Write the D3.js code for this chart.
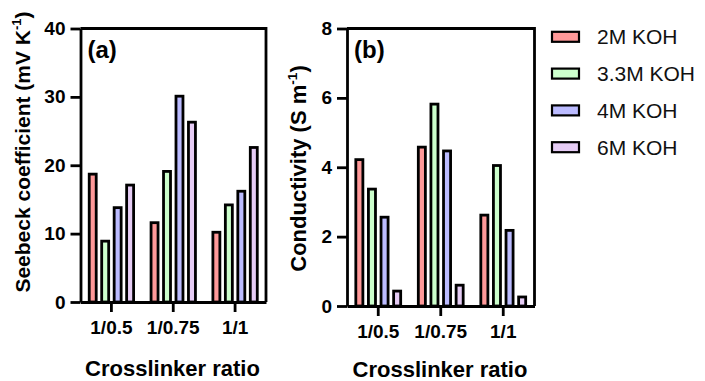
<!DOCTYPE html>
<html><head><meta charset="utf-8">
<script src="https://cdn.jsdelivr.net/npm/d3@7"></script>
<style>
body{margin:0;background:#fff}
svg text{font-family:"Liberation Sans",Arial,Helvetica,sans-serif}
</style>
</head><body>
<svg id="chart" width="705" height="381"></svg>
<script>
// ---- data ----
const categories = ["1/0.5", "1/0.75", "1/1"];
const seriesNames = ["2M KOH", "3.3M KOH", "4M KOH", "6M KOH"];
const seriesColors = ["#FF9999", "#CCFFCC", "#BBBBFF", "#E6CCF5"];

const seebeck2M  = [18.7, 11.6, 10.2];
const seebeck33M = [8.9, 19.1, 14.2];
const seebeck4M  = [13.8, 30.1, 16.2];
const seebeck6M  = [17.1, 26.3, 22.6];

const cond2M  = [4.22, 4.58, 2.62];
const cond33M = [3.37, 5.82, 4.05];
const cond4M  = [2.56, 4.47, 2.18];
const cond6M  = [0.43, 0.60, 0.26];

const seebeckTicks = [0, 10, 20, 30, 40];
const condTicks = [0, 2, 4, 6, 8];

// ---- drawing ----
const svg = d3.select("#chart");
const color = d3.scaleOrdinal().domain(seriesNames).range(seriesColors);
const SW = 2.8;

function panel(o) {
  const x0 = d3.scaleBand().domain(categories).range([o.left, o.right]).paddingInner(0).paddingOuter(0);
  const x1 = d3.scaleBand().domain(seriesNames).range([0, x0.bandwidth()]).paddingInner(0.44).paddingOuter(0.7);
  const y = d3.scaleLinear().domain([0, o.yTicks[o.yTicks.length - 1]]).range([o.bottom, o.top]);
  const g = svg.append("g");

  const rows = [];
  categories.forEach((c, ci) => seriesNames.forEach((s, si) => rows.push({c, s, v: o.values[si][ci]})));

  g.selectAll("rect.bar").data(rows).join("rect")
    .attr("class", "bar")
    .attr("x", d => x0(d.c) + x1(d.s))
    .attr("y", d => y(d.v))
    .attr("width", x1.bandwidth())
    .attr("height", d => y(0) - y(d.v))
    .attr("fill", d => color(d.s))
    .attr("stroke", "#000")
    .attr("stroke-width", SW);

  // frame top + right
  g.append("path")
    .attr("d", `M${o.left},${o.top}H${o.right}V${o.bottom}`)
    .attr("fill", "none").attr("stroke", "#000").attr("stroke-width", SW);

  const ya = g.append("g").attr("transform", `translate(${o.left},0)`)
    .call(d3.axisLeft(y).tickValues(o.yTicks).tickSize(10).tickSizeOuter(0).tickPadding(5));
  const xa = g.append("g").attr("transform", `translate(0,${o.bottom})`)
    .call(d3.axisBottom(x0).tickSize(10).tickSizeOuter(0).tickPadding(9));
  [ya, xa].forEach(a => {
    a.select(".domain").attr("stroke-width", SW).attr("stroke", "#000");
    a.selectAll(".tick line").attr("stroke-width", SW).attr("stroke", "#000");
    a.selectAll(".tick text").attr("font-size", 19).attr("font-weight", "bold")
      .attr("fill", "#000").style("font-family", '"Liberation Sans",Arial,sans-serif');
  });

  // panel label
  g.append("text").attr("x", o.left + 7).attr("y", 58)
    .attr("font-size", 24).attr("font-weight", "bold").text(o.label);

  // x title
  g.append("text").attr("x", o.xTitleX).attr("y", o.xTitleY)
    .attr("text-anchor", "middle").attr("font-size", 22).attr("font-weight", "bold")
    .text("Crosslinker ratio");

  // y title
  const yt = g.append("text")
    .attr("transform", `translate(${o.yTitleX},${o.yTitleY}) rotate(-90)`)
    .attr("text-anchor", "middle").attr("font-size", o.yTitleSize).attr("font-weight", "bold");
  yt.append("tspan").text(o.yTitle);
  yt.append("tspan").attr("font-size", o.yTitleSize * 0.62).attr("dy", -o.yTitleSize * 0.42).text("-1");
  yt.append("tspan").attr("dy", o.yTitleSize * 0.42).text(")");
}

panel({
  values: [seebeck2M, seebeck33M, seebeck4M, seebeck6M],
  yTicks: seebeckTicks, left: 80.5, right: 266, top: 28.5, bottom: 302,
  label: "(a)", xTitleX: 172.5, xTitleY: 376,
  yTitle: "Seebeck coefficient (mV K", yTitleX: 30, yTitleY: 152, yTitleSize: 21
});
panel({
  values: [cond2M, cond33M, cond4M, cond6M],
  yTicks: condTicks, left: 347, right: 534.5, top: 28.5, bottom: 306,
  label: "(b)", xTitleX: 440, xTitleY: 377,
  yTitle: "Conductivity (S m", yTitleX: 306, yTitleY: 168.5, yTitleSize: 22
});

// legend
const lg = svg.append("g").attr("transform", "translate(552,0)");
const ly = d3.scalePoint().domain(seriesNames).range([36.8, 147.2]);
const items = lg.selectAll("g.item").data(seriesNames).join("g")
  .attr("class", "item").attr("transform", d => `translate(0,${ly(d)})`);
items.append("rect").attr("x", 0).attr("y", -5).attr("width", 27).attr("height", 10)
  .attr("fill", d => color(d)).attr("stroke", "#000").attr("stroke-width", 2.2);
items.append("text").attr("x", 45).attr("y", 7.4).attr("font-size", 21).attr("fill", "#111").text(d => d);
</script>
</body></html>
